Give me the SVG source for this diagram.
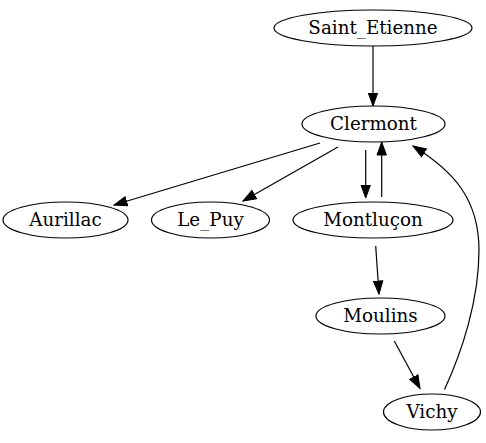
<svg xmlns="http://www.w3.org/2000/svg" width="486" height="443" viewBox="0 0 486 443">
<style>
.node ellipse{fill:none;stroke:#000;stroke-width:1.2}
.node text{font-family:'DejaVu Serif',serif;font-size:18.3px;text-anchor:middle;fill:#000}
.edges path{fill:none;stroke:#000;stroke-width:1.2;marker-end:url(#ah)}
</style>
<defs>
<marker id="ah" markerUnits="userSpaceOnUse" markerWidth="15" markerHeight="12" viewBox="0 -6 14 12" refX="13" refY="0" orient="auto">
<path d="M0,-4.7 L13,0 L0,4.7 Z" fill="#000" stroke="#000" stroke-width="1"/>
</marker>
</defs>
<rect width="486" height="443" fill="#fff"/>
<g class="edges">
<path d="M373,46 L373,106"/>
<path d="M320,143 L114,205"/>
<path d="M338,147 L243,201"/>
<path d="M365.7,150 L365.7,198"/>
<path d="M381.7,197 L381.7,142"/>
<path d="M375.7,246 L379,294"/>
<path d="M394.3,341 L420,388.5"/>
<path d="M444.5,389.5 C462,352 479,300 479,250 C479,198 452,170 413,146"/>
</g>
<g id="Saint_Etienne" class="node"><ellipse cx="373" cy="28" rx="99" ry="18"/><text x="373" y="34">Saint_Etienne</text></g>
<g id="Clermont" class="node"><ellipse cx="373.5" cy="124" rx="71.5" ry="18"/><text x="373.5" y="130">Clermont</text></g>
<g id="Aurillac" class="node"><ellipse cx="65.5" cy="220" rx="62.5" ry="18"/><text x="65.5" y="226">Aurillac</text></g>
<g id="Le_Puy" class="node"><ellipse cx="210.5" cy="220" rx="59" ry="18"/><text x="210.5" y="226">Le_Puy</text></g>
<g id="Montlucon" class="node"><ellipse cx="373" cy="220" rx="80" ry="18"/><text x="373" y="226">Montluçon</text></g>
<g id="Moulins" class="node"><ellipse cx="380.5" cy="316" rx="64.5" ry="18"/><text x="380.5" y="322">Moulins</text></g>
<g id="Vichy" class="node"><ellipse cx="432" cy="412" rx="48.5" ry="18"/><text x="432" y="418">Vichy</text></g>
</svg>
